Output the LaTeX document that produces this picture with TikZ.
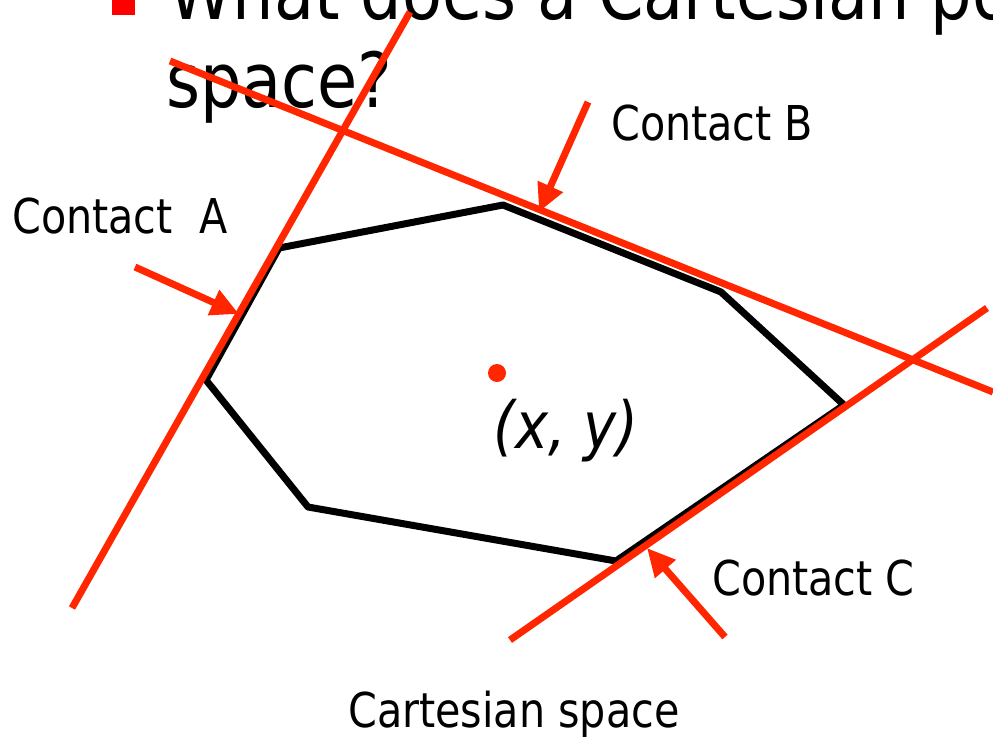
\documentclass[tikz,border=0pt]{standalone}
\usepackage{fontspec}
\setmainfont{DejaVu Sans}[FakeStretch=0.86, ItalicFont={DejaVu Sans Oblique}]
\usetikzlibrary{arrows.meta}
\definecolor{lred}{RGB}{255,38,0}
\definecolor{bred}{RGB}{255,0,0}
\tikzset{
  redline/.style={draw=lred, line width=7pt},
  redarrow/.style={draw=lred, line width=7pt, -{Triangle[length=28pt,width=26pt]}},
  poly/.style={draw=black, line width=7pt, line join=bevel},
  lbl/.style={anchor=base west, inner sep=0pt, font=\fontsize{48}{58}\selectfont},
  title/.style={anchor=base west, inner sep=0pt, font=\fontsize{76}{90}\selectfont},
}
\begin{document}
\begin{tikzpicture}[x=1pt,y=-1pt]
\useasboundingbox (0,0) rectangle (993,737);
% polygon
\coordinate (p1) at (279,248);
\coordinate (p2) at (503,205);
\coordinate (p3) at (721,292);
\coordinate (p4) at (844,405);
\coordinate (p5) at (616,561);
\coordinate (p6) at (308,507);
\coordinate (p7) at (206,380);
\draw[poly] (p1) -- (p2) -- (p3) -- (p4) -- (p5) -- (p6) -- (p7) -- cycle;
% title
\fill[bred] (112,-8) rectangle (135,15);
\node[title] (t1) at (168,19) {What does a Cartesian po};
\node[title] (t2) at (166,107) {space?};
% tangent lines
\coordinate (a1) at (72,608);
\coordinate (a2) at (410,12);
\coordinate (b1) at (170,61);
\coordinate (b2) at (993,392);
\coordinate (c1) at (510,640);
\coordinate (c2) at (987,308);
\draw[redline] (a1) -- (a2);
\draw[redline] (b1) -- (b2);
\draw[redline] (c1) -- (c2);
% arrows
\coordinate (atail) at (135,267);
\coordinate (atip) at (239,314);
\coordinate (btail) at (588,102);
\coordinate (btip) at (539,212);
\coordinate (ctail) at (725,637);
\coordinate (ctip) at (647,548);
\draw[redarrow] (atail) -- (atip);
\draw[redarrow] (btail) -- (btip);
\draw[redarrow] (ctail) -- (ctip);
% point
\fill[lred] (497,373) circle (9);
\node[anchor=base west, inner sep=0pt, font=\fontsize{65}{78}\selectfont\itshape] (xy) at (493,448) {(x, y)};
% labels
\node[lbl] (la) at (12,233) {Contact\ \ A};
\node[lbl] (lb) at (611,140) {Contact B};
\node[lbl] (lc) at (712,595) {Contact C};
\node[lbl] (cs) at (348,727) {Cartesian space};
\end{tikzpicture}
\end{document}
